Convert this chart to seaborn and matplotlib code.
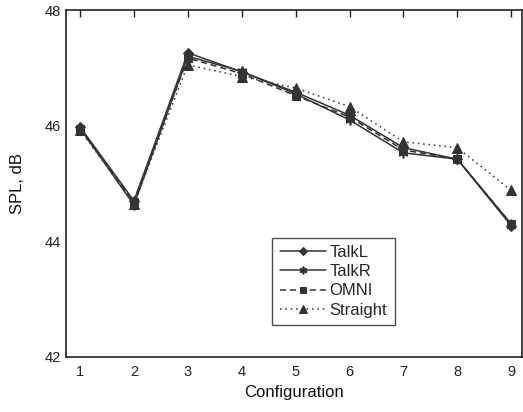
import matplotlib
matplotlib.use("Agg")
import matplotlib.pyplot as plt
import seaborn as sns
import pandas as pd
from matplotlib.ticker import MultipleLocator

configs = [1, 2, 3, 4, 5, 6, 7, 8, 9]
talkl = [45.98, 44.70, 47.26, 46.93, 46.58, 46.18, 45.62, 45.42, 44.27]
talkr = [45.96, 44.63, 47.20, 46.94, 46.55, 46.10, 45.53, 45.42, 44.30]
omni = [45.94, 44.68, 47.17, 46.90, 46.52, 46.15, 45.58, 45.42, 44.30]
straight = [45.93, 44.65, 47.05, 46.85, 46.65, 46.33, 45.72, 45.62, 44.88]
series_names = ["TalkL", "TalkR", "OMNI", "Straight"]

sns.set_style("white")
plt.rcParams['font.family'] = ['Liberation Sans', 'DejaVu Sans']

fig = plt.figure(figsize=(5.23, 4.12), dpi=100)
ax = fig.add_axes([66/523, 1 - 357/412, (522 - 66)/523, (357 - 10)/412])

col = "#333333"
styles = {
    "TalkL": dict(marker="D", linestyle="-", markersize=5),
    "TalkR": dict(marker=(6, 2, 0), linestyle="-", markersize=7, markeredgewidth=1.2),
    "OMNI": dict(marker="s", linestyle=(0, (4, 2.5)), markersize=6),
    "Straight": dict(marker="^", linestyle=(0, (1, 2.5)), markersize=6.5),
}
for name, vals in zip(series_names, [talkl, talkr, omni, straight]):
    df = pd.DataFrame({"Configuration": configs, "SPL": vals})
    sns.lineplot(data=df, x="Configuration", y="SPL", color=col, linewidth=1.1,
                 markeredgecolor=col, label=name, ax=ax, **styles[name])

ax.set_xlim(0.74, 9.2)
ax.set_ylim(42, 48)
ax.set_xticks(configs)
ax.yaxis.set_major_locator(MultipleLocator(2))
ax.yaxis.set_minor_locator(MultipleLocator(1))
ax.tick_params(axis="both", which="both", direction="in", top=True, right=False,
               length=5, width=1, colors="#222222", labelsize=10.5)
ax.tick_params(axis="x", pad=6)
for s in ax.spines.values():
    s.set_color("#222222")
    s.set_linewidth(1.2)
ax.set_xlabel("Configuration", fontsize=12, color="#111111")
ax.set_ylabel("SPL, dB", fontsize=12, color="#111111", labelpad=14)

leg = ax.legend(loc="lower left", bbox_to_anchor=(0.452, 0.092), fontsize=12,
                frameon=True, fancybox=False, edgecolor="#222222", handlelength=2.8,
                borderpad=0.45, labelspacing=0.25, handletextpad=0.2,
                borderaxespad=0, markerscale=0.8)
leg.get_frame().set_linewidth(1.0)

fig.savefig("out.png", dpi=100)
